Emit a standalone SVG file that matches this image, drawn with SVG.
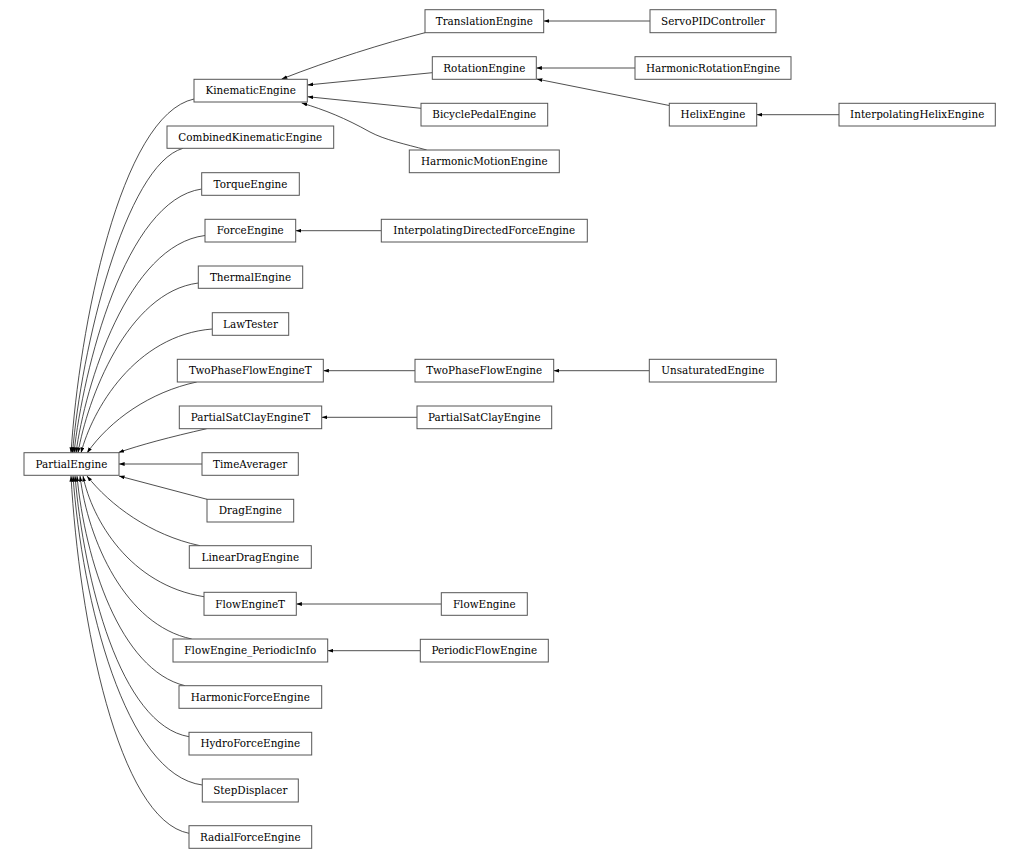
<svg xmlns="http://www.w3.org/2000/svg" width="1020" height="859" viewBox="0 0 1020 859">
<style>
.n rect{fill:#fff;stroke:#555;stroke-width:1}
.n text{font-family:"DejaVu Serif",serif;font-size:10.4px;fill:#000;text-anchor:middle}
#edges path{fill:none;stroke:#222;stroke-width:0.8;marker-end:url(#ah)}
</style>
<defs>
<marker id="ah" markerUnits="userSpaceOnUse" markerWidth="6" markerHeight="4" refX="5.6" refY="1.9" orient="auto"><path d="M0,0 L5.6,1.9 L0,3.8 z" fill="#000"/></marker>
</defs>
<rect width="1020" height="859" fill="#fff"/>
<g id="edges">
<path d="M650,21 L543.7,21"/>
<path d="M635,68 L536.3,68"/>
<path d="M669.3,105.5 L536.7,79"/>
<path d="M839,114.7 L756.7,114.7"/>
<path d="M425,32.7 C385,43 330,60 281.7,79"/>
<path d="M432.3,72.7 L307.5,85"/>
<path d="M421,108.3 L307.5,96.7"/>
<path d="M426.7,150 C405,144 385,140 370,132 C345,118 325,110 301.7,103"/>
<path d="M381.3,230.7 L295.7,230.7"/>
<path d="M415,370.7 L323.3,370.7"/>
<path d="M649.3,370.7 L553.7,370.7"/>
<path d="M417,417.3 L321.7,417.3"/>
<path d="M441.3,604 L296.3,604"/>
<path d="M420.3,650.7 L327.7,650.7"/>
<path d="M194,99 C120,115 79,329 71,453"/>
<path d="M183,148.3 C125,165 81,350 72.5,453"/>
<path d="M201.7,189 C125,200 83,370 74,453"/>
<path d="M205,235.5 C128,245 85,385 76,453"/>
<path d="M198.3,283 C127,292 87,400 78,453"/>
<path d="M212.3,329 C135,335 92,410 81,453"/>
<path d="M196.7,382 C150,392 110,420 87,453"/>
<path d="M206.7,428.7 C170,437 140,445 118.5,452.5"/>
<path d="M202,464 L119,464"/>
<path d="M207,499.3 L119,476"/>
<path d="M200,545.7 C150,535 110,505 87,476"/>
<path d="M204,596.7 C130,585 92,520 83,476"/>
<path d="M191.7,639 C125,625 88,540 80,476"/>
<path d="M185,685.7 C120,670 85,560 77,476"/>
<path d="M189,736.7 C120,725 84,580 75,476"/>
<path d="M202.3,785 C125,775 82,600 73,476"/>
<path d="M189,833.3 C118,820 79,620 71,476"/>
</g>
<g id="TranslationEngine" class="n"><rect x="425" y="9.7" width="118.7" height="23"/><text x="484.3" y="24.8">TranslationEngine</text></g>
<g id="ServoPIDController" class="n"><rect x="650" y="9.7" width="126" height="23"/><text x="713" y="24.8">ServoPIDController</text></g>
<g id="RotationEngine" class="n"><rect x="432.3" y="56.7" width="104" height="22.6"/><text x="484.3" y="71.7">RotationEngine</text></g>
<g id="HarmonicRotationEngine" class="n"><rect x="635" y="56.7" width="156" height="22.6"/><text x="713" y="71.7">HarmonicRotationEngine</text></g>
<g id="KinematicEngine" class="n"><rect x="194" y="79.3" width="113.3" height="22.7"/><text x="250.7" y="94.3">KinematicEngine</text></g>
<g id="BicyclePedalEngine" class="n"><rect x="421" y="103.3" width="126.7" height="22.7"/><text x="484.3" y="118.3">BicyclePedalEngine</text></g>
<g id="HelixEngine" class="n"><rect x="669.3" y="103.3" width="87.4" height="22.7"/><text x="713" y="118.3">HelixEngine</text></g>
<g id="InterpolatingHelixEngine" class="n"><rect x="839" y="103.3" width="156.3" height="22.7"/><text x="917.2" y="118.3">InterpolatingHelixEngine</text></g>
<g id="CombinedKinematicEngine" class="n"><rect x="167" y="126" width="166.7" height="22.3"/><text x="250.3" y="140.8">CombinedKinematicEngine</text></g>
<g id="HarmonicMotionEngine" class="n"><rect x="409.3" y="150" width="150" height="22.7"/><text x="484.3" y="165">HarmonicMotionEngine</text></g>
<g id="TorqueEngine" class="n"><rect x="201.7" y="172.7" width="97.6" height="22.6"/><text x="250.5" y="187.7">TorqueEngine</text></g>
<g id="ForceEngine" class="n"><rect x="205" y="219.3" width="90.7" height="22.7"/><text x="250.3" y="234.3">ForceEngine</text></g>
<g id="InterpolatingDirectedForceEngine" class="n"><rect x="381.3" y="219.3" width="206" height="22.7"/><text x="484.3" y="234.3">InterpolatingDirectedForceEngine</text></g>
<g id="ThermalEngine" class="n"><rect x="198.3" y="266" width="104.4" height="22.3"/><text x="250.5" y="280.8">ThermalEngine</text></g>
<g id="LawTester" class="n"><rect x="212.3" y="312.7" width="76.4" height="22.6"/><text x="250.5" y="327.7">LawTester</text></g>
<g id="TwoPhaseFlowEngineT" class="n"><rect x="177.3" y="359.3" width="146" height="22.7"/><text x="250.3" y="374.3">TwoPhaseFlowEngineT</text></g>
<g id="TwoPhaseFlowEngine" class="n"><rect x="415" y="359.3" width="138.7" height="22.7"/><text x="484.3" y="374.3">TwoPhaseFlowEngine</text></g>
<g id="UnsaturatedEngine" class="n"><rect x="649.3" y="359.3" width="127" height="22.7"/><text x="712.8" y="374.3">UnsaturatedEngine</text></g>
<g id="PartialSatClayEngineT" class="n"><rect x="179.3" y="406" width="142.4" height="22.7"/><text x="250.5" y="421">PartialSatClayEngineT</text></g>
<g id="PartialSatClayEngine" class="n"><rect x="417" y="406" width="134.7" height="22.7"/><text x="484.3" y="421">PartialSatClayEngine</text></g>
<g id="PartialEngine" class="n"><rect x="24" y="452.7" width="95" height="22.6"/><text x="71.5" y="467.7">PartialEngine</text></g>
<g id="TimeAverager" class="n"><rect x="202" y="452.7" width="96.3" height="22.6"/><text x="250.2" y="467.7">TimeAverager</text></g>
<g id="DragEngine" class="n"><rect x="207" y="499.3" width="86.7" height="22.7"/><text x="250.3" y="514.3">DragEngine</text></g>
<g id="LinearDragEngine" class="n"><rect x="189.3" y="545.7" width="122" height="22.6"/><text x="250.3" y="560.7">LinearDragEngine</text></g>
<g id="FlowEngineT" class="n"><rect x="204" y="592.3" width="92.3" height="23"/><text x="250.2" y="607.5">FlowEngineT</text></g>
<g id="FlowEngine" class="n"><rect x="441.3" y="592.7" width="86" height="22.6"/><text x="484.3" y="607.7">FlowEngine</text></g>
<g id="FlowEngine_PeriodicInfo" class="n"><rect x="173" y="639" width="154.7" height="23"/><text x="250.3" y="654.2">FlowEngine_PeriodicInfo</text></g>
<g id="PeriodicFlowEngine" class="n"><rect x="420.3" y="639.3" width="128" height="22.7"/><text x="484.3" y="654.3">PeriodicFlowEngine</text></g>
<g id="HarmonicForceEngine" class="n"><rect x="179" y="685.7" width="142.7" height="22.6"/><text x="250.3" y="700.7">HarmonicForceEngine</text></g>
<g id="HydroForceEngine" class="n"><rect x="189" y="732.3" width="122.7" height="22.7"/><text x="250.3" y="747.3">HydroForceEngine</text></g>
<g id="StepDisplacer" class="n"><rect x="202.3" y="779" width="96" height="23"/><text x="250.3" y="794.2">StepDisplacer</text></g>
<g id="RadialForceEngine" class="n"><rect x="189" y="825.7" width="122.7" height="22.6"/><text x="250.3" y="840.7">RadialForceEngine</text></g>
</svg>
